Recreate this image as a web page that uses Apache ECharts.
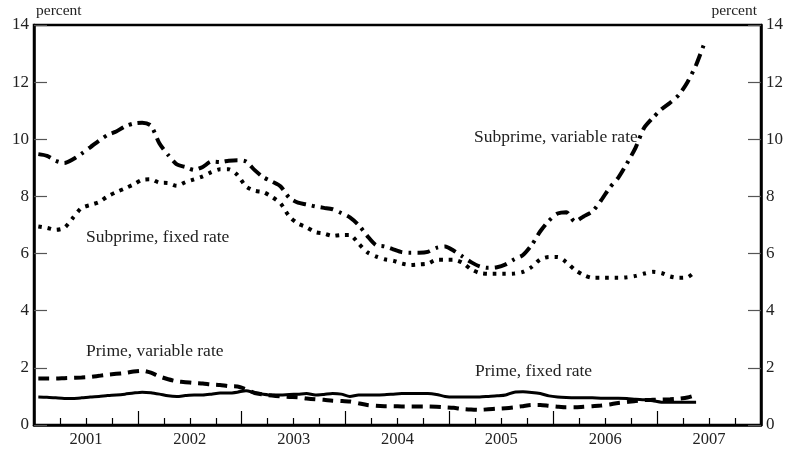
<!DOCTYPE html>
<html>
<head>
<meta charset="utf-8">
<script src="https://cdn.jsdelivr.net/npm/echarts@6/dist/echarts.min.js"></script>
<style>
  html, body { margin: 0; padding: 0; background: #fff; }
  #chart { width: 789px; height: 452px; }
</style>
</head>
<body>
<div id="chart"></div>
<script>
// monthly data, Jan 2001 onward (percent)
const years = ['2001', '2002', '2003', '2004', '2005', '2006', '2007']

const subprimeVariable = [
  9.48, 9.42, 9.25, 9.17, 9.3, 9.5, 9.72, 9.95, 10.15, 10.27, 10.45, 10.55,
  10.58, 10.48, 9.85, 9.45, 9.12, 9.03, 8.93, 9.03, 9.22, 9.2, 9.25, 9.27,
  9.22, 8.92, 8.67, 8.52, 8.35, 7.95, 7.78, 7.72, 7.65, 7.6, 7.55, 7.42,
  7.27, 7.0, 6.62, 6.3, 6.25, 6.15, 6.05, 6.03, 6.03, 6.06, 6.2, 6.25,
  6.1, 5.9, 5.7, 5.55, 5.5, 5.52, 5.62, 5.8, 5.95, 6.3, 6.78, 7.15,
  7.4, 7.45, 7.12, 7.3, 7.47, 7.85, 8.3, 8.65, 9.15, 9.7, 10.4, 10.75,
  11.05, 11.28, 11.55, 12.0, 12.6, 13.4
]
const subprimeFixed = [
  6.95, 6.9, 6.83, 6.9, 7.25, 7.6, 7.7, 7.8, 8.0, 8.15, 8.28, 8.42,
  8.58, 8.6, 8.48, 8.47, 8.37, 8.5, 8.6, 8.7, 8.85, 8.95, 8.95, 8.75,
  8.35, 8.2, 8.15, 7.98, 7.75, 7.3, 7.05, 6.92, 6.75, 6.7, 6.62, 6.65,
  6.65, 6.35, 6.05, 5.9, 5.8, 5.75, 5.65, 5.6, 5.62, 5.65, 5.78, 5.78,
  5.78, 5.68, 5.45, 5.32, 5.29, 5.29, 5.29, 5.3, 5.36, 5.53, 5.8, 5.88,
  5.88, 5.7, 5.43, 5.25, 5.15, 5.15, 5.15, 5.15, 5.17, 5.22, 5.3, 5.36,
  5.32, 5.2, 5.15, 5.17, 5.4
]
const primeVariable = [
  1.63, 1.63, 1.63, 1.64, 1.65, 1.66, 1.68, 1.72, 1.76, 1.79, 1.82, 1.87,
  1.9, 1.83, 1.7, 1.6, 1.53, 1.5, 1.47, 1.45, 1.42, 1.4, 1.36, 1.35,
  1.25, 1.12, 1.07, 1.03, 1.0, 0.98, 0.97, 0.93, 0.9, 0.88, 0.85, 0.84,
  0.82, 0.76, 0.7, 0.67, 0.66, 0.66, 0.65, 0.65, 0.65, 0.65, 0.64, 0.62,
  0.6, 0.56, 0.54, 0.53, 0.55, 0.57, 0.59, 0.62, 0.66, 0.7, 0.7, 0.67,
  0.64, 0.62, 0.62, 0.64, 0.66, 0.68, 0.72, 0.77, 0.8, 0.84, 0.87, 0.88,
  0.89, 0.9, 0.92, 0.96, 1.05
]
const primeFixed = [
  0.98, 0.97, 0.95, 0.93, 0.93, 0.95, 0.98, 1.0, 1.03, 1.05, 1.08, 1.12,
  1.15, 1.13, 1.08, 1.02, 1.0, 1.03, 1.05, 1.05, 1.08, 1.12, 1.12, 1.15,
  1.2, 1.13, 1.08, 1.05, 1.05, 1.07, 1.08, 1.1, 1.05, 1.07, 1.1, 1.08,
  1.0, 1.05, 1.05, 1.05, 1.06, 1.08, 1.1, 1.1, 1.1, 1.1, 1.07, 1.0,
  0.98, 0.98, 0.98, 0.98, 1.0, 1.02, 1.05, 1.15, 1.16, 1.14, 1.1, 1.02,
  0.98, 0.96, 0.95, 0.95, 0.95, 0.94, 0.94, 0.94, 0.93, 0.9, 0.88, 0.85,
  0.8, 0.8, 0.8, 0.8, 0.8
]

// months since Jan 2001, plotted mid-month
const toPoints = (values) => values.map((v, i) => [i + 0.5, v])

const serif = 'Liberation Serif'
const txt = '#222'

const chart = echarts.init(document.getElementById('chart'))

const lineSeries = (name, values, type, width) => ({
  name,
  type: 'line',
  xAxisIndex: 0,
  yAxisIndex: 0,
  data: toPoints(values),
  showSymbol: false,
  smooth: 0.25,
  lineStyle: { color: '#000', width, type, cap: 'butt' },
  animation: false
})

const yAxisBase = (position) => ({
  type: 'value',
  position,
  min: 0,
  max: 14,
  interval: 2,
  axisLine: { show: true, lineStyle: { color: '#000', width: 2.5 } },
  axisTick: { show: true, inside: true, length: 13, lineStyle: { color: '#555', width: 1.2 } },
  axisLabel: { color: txt, fontFamily: serif, fontSize: 17, margin: 5 },
  splitLine: { show: false }
})

chart.setOption({
  backgroundColor: '#fff',
  animation: false,
  grid: {
    left: 34, right: 28, top: 25, bottom: 27,
    show: true, borderColor: '#000', borderWidth: 2.5
  },
  xAxis: [
    {
      type: 'value',
      min: 0,
      max: years.length * 12,
      interval: 12,
      axisLine: { show: true, lineStyle: { color: '#000', width: 2.5 } },
      axisTick: { show: true, inside: true, length: 14, lineStyle: { color: '#000', width: 1.2 } },
      minorTick: { show: true, splitNumber: 4, length: 7, lineStyle: { color: '#000', width: 1.2 } },
      axisLabel: { show: false },
      splitLine: { show: false },
      minorSplitLine: { show: false }
    },
    {
      type: 'category',
      data: years,
      position: 'bottom',
      axisLine: { show: false },
      axisTick: { show: false },
      axisLabel: { color: txt, fontFamily: serif, fontSize: 16.5, margin: 6 },
      splitLine: { show: false }
    }
  ],
  yAxis: [yAxisBase('left'), yAxisBase('right')],
  series: [
    lineSeries('Subprime, variable rate', subprimeVariable, [13, 6, 3, 6], 4),
    lineSeries('Subprime, fixed rate', subprimeFixed, [3.5, 6], 4),
    lineSeries('Prime, variable rate', primeVariable, [11, 7], 4),
    lineSeries('Prime, fixed rate', primeFixed, 'solid', 3)
  ],
  graphic: [
    { type: 'text', left: 36, top: 3, style: { text: 'percent', font: '15.5px ' + serif, fill: txt } },
    { type: 'text', right: 32, top: 3, style: { text: 'percent', font: '15.5px ' + serif, fill: txt } },
    { type: 'text', left: 474, top: 128, style: { text: 'Subprime, variable rate', font: '17.5px ' + serif, fill: txt } },
    { type: 'text', left: 86, top: 228, style: { text: 'Subprime, fixed rate', font: '17.5px ' + serif, fill: txt } },
    { type: 'text', left: 86, top: 342, style: { text: 'Prime, variable rate', font: '17.5px ' + serif, fill: txt } },
    { type: 'text', left: 475, top: 362, style: { text: 'Prime, fixed rate', font: '17.5px ' + serif, fill: txt } }
  ]
})
</script>
</body>
</html>
